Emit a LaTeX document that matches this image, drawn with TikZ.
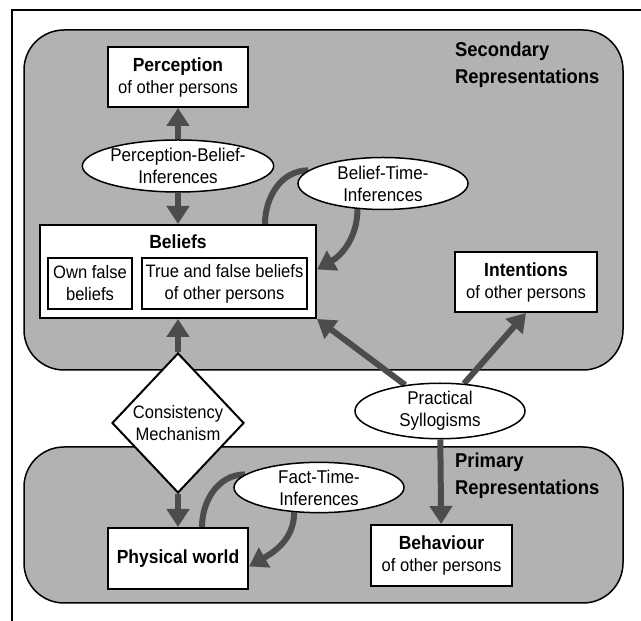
\documentclass[tikz,border=0pt]{standalone}
\usepackage{fontspec}
\setmainfont[FakeStretch=0.92]{Liberation Sans}
\usetikzlibrary{arrows.meta,shapes.geometric}
\pgfdeclarelayer{back}
\pgfdeclarelayer{mid}
\pgfsetlayers{back,mid,main}
\tikzset{
  region/.style={draw=black,line width=1.5pt,fill=gray!60,rounded corners=40pt},
  box/.style={draw=black,line width=2pt,fill=white,minimum width=140pt,minimum height=60pt,
    inner sep=0pt,align=center,font=\fontsize{18}{22}\selectfont},
  infer/.style={ellipse,draw=black,line width=1.5pt,fill=white,minimum width=170pt,
    minimum height=52pt,inner sep=0pt,align=center,font=\fontsize{18.5}{22}\selectfont},
  flow/.style={draw=black!70,line width=6pt,-{Triangle[length=18pt,width=22pt]}},
  areatitle/.style={anchor=west,align=left,inner sep=0pt,font=\bfseries\fontsize{20}{27}\selectfont}
}
\newcommand{\boxhead}[1]{{\bfseries\fontsize{19}{22}\selectfont #1}}
\begin{document}
\begin{tikzpicture}[x=1pt,y=1pt]
    \useasboundingbox (0,0) rectangle (641,621);
    \draw[line width=1.5pt] (12,0) -- (12,611) -- (641,611);
    \begin{pgfonlayer}{back}
        \draw[region] (24,251) rectangle (623,591);
        \draw[region] (24,18) rectangle (623,174);
    \end{pgfonlayer}
    \node[areatitle] (sectitle) at (455,556) {Secondary\\Representations};
    \node[areatitle] (primtitle) at (455,145) {Primary\\Representations};
    \node[box] (perception) at (178,544) {\boxhead{Perception}\\of other persons};
    \node[infer] (pbi) at (178,455) {Perception-Belief-\\Inferences};
    \node[box,minimum width=276pt,minimum height=93pt] (beliefs) at (178,349.5) {};
    \node[inner sep=0pt] (beliefshead) at (178,379) {\boxhead{Beliefs}};
    \node[box,minimum width=84pt,minimum height=51pt] (ownfalse) at (90,337.5) {Own false\\beliefs};
    \node[box,minimum width=165pt,minimum height=51pt] (otherfalse) at (224.5,337.5) {True and false beliefs\\of other persons};
    \node[infer] (bti) at (383,437.5) {Belief-Time-\\Inferences};
    \node[box,minimum width=142pt] (intentions) at (526,339) {\boxhead{Intentions}\\of other persons};
    \node[diamond,draw=black,line width=2pt,fill=white,minimum width=132pt,minimum height=140pt,
        inner sep=0pt,align=center,font=\fontsize{18}{22}\selectfont] (cm) at (178,198) {Consistency\\Mechanism};
    \node[infer] (ps) at (440,210) {Practical\\Syllogisms};
    \node[infer,minimum height=50pt] (fti) at (319,133.5) {Fact-Time-\\Inferences};
    \node[box,minimum height=61pt] (physical) at (178,62.5) {\boxhead{Physical world}};
    \node[box,minimum width=141pt,minimum height=61pt] (behaviour) at (441.5,65.5) {\boxhead{Behaviour}\\of other persons};
    \begin{pgfonlayer}{mid}
        \draw[flow] (pbi) -- (perception);
        \draw[flow] (pbi) -- (beliefs);
        \draw[flow] (cm) -- (beliefs);
        \draw[flow] (cm) -- (physical);
        \draw[flow] (ps) -- (beliefs.south east);
        \draw[flow] (ps) -- (intentions.south);
        \draw[flow] (ps) -- (behaviour);
        \draw[draw=black!70,line width=6pt] ([xshift=87pt]beliefs.north) to[out=90,in=180] (bti.170);
        \draw[flow] (bti.225) to[out=-90,in=30] ([yshift=2pt]beliefs.east);
        \draw[draw=black!70,line width=6pt] ([xshift=24pt]physical.north) to[out=90,in=180] (fti.170);
        \draw[flow] (fti.225) to[out=-90,in=30] ([yshift=-8pt]physical.east);
    \end{pgfonlayer}
\end{tikzpicture}
\end{document}
